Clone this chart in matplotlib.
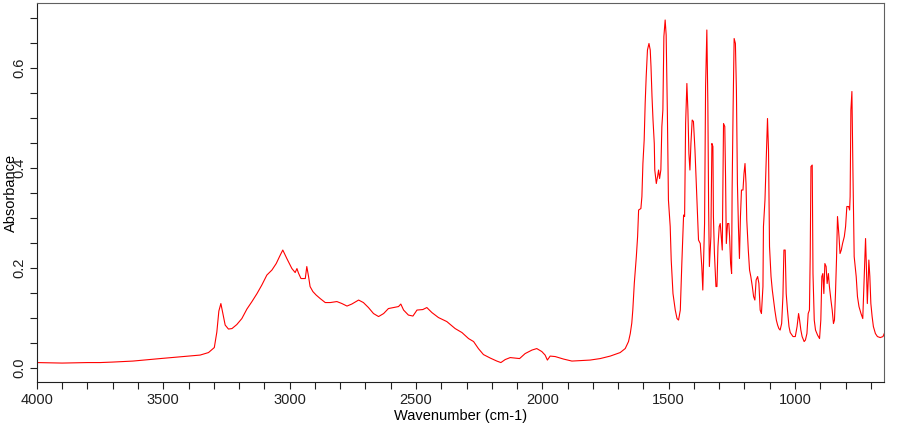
import matplotlib
matplotlib.use("Agg")
import matplotlib.pyplot as plt
from matplotlib.ticker import MultipleLocator

plt.rcParams['font.family'] = ['Liberation Sans', 'DejaVu Sans']

# IR spectrum (wavenumber in cm-1, absorbance)
wavenumber = [
    4000, 3900, 3800, 3750, 3700, 3620, 3512, 3420, 3354, 3321, 3298, 3288, 3280, 3272,
    3264, 3255, 3242, 3228, 3209, 3189, 3169, 3149, 3129, 3110, 3090, 3070, 3053, 3037,
    3027, 3011, 2991, 2978, 2971, 2965, 2955, 2938, 2932, 2925, 2919, 2908, 2895, 2879,
    2859, 2839, 2813, 2793, 2773, 2754, 2727, 2708, 2688, 2668, 2648, 2628, 2609, 2589,
    2569, 2560, 2549, 2530, 2512, 2496, 2473, 2457, 2437, 2411, 2378, 2345, 2318, 2292,
    2272, 2253, 2233, 2206, 2180, 2164, 2147, 2127, 2090, 2068, 2041, 2022, 2002, 1989,
    1980, 1969, 1949, 1916, 1883, 1850, 1811, 1771, 1731, 1692, 1672, 1659, 1652, 1646,
    1642, 1636, 1628, 1623, 1619, 1610, 1606, 1602, 1597, 1593, 1589, 1584, 1578, 1573,
    1570, 1566, 1562, 1557, 1555, 1549, 1544, 1540, 1536, 1531, 1527, 1523, 1519, 1514,
    1510, 1505, 1501, 1494, 1490, 1483, 1474, 1467, 1461, 1454, 1448, 1441, 1437, 1433,
    1428, 1424, 1420, 1416, 1412, 1407, 1402, 1396, 1388, 1382, 1375, 1369, 1365, 1358,
    1354, 1349, 1345, 1342, 1339, 1333, 1329, 1325, 1323, 1319, 1313, 1309, 1305, 1300,
    1296, 1292, 1288, 1283, 1278, 1275, 1272, 1267, 1262, 1259, 1255, 1251, 1249, 1245,
    1241, 1236, 1232, 1228, 1224, 1220, 1216, 1212, 1206, 1202, 1198, 1194, 1191, 1185,
    1180, 1175, 1169, 1164, 1159, 1154, 1148, 1143, 1138, 1133, 1127, 1125, 1119, 1114,
    1109, 1105, 1101, 1095, 1090, 1085, 1080, 1074, 1069, 1064, 1059, 1053, 1048, 1044,
    1039, 1035, 1030, 1024, 1019, 1008, 999, 992, 986, 982, 977, 972, 964, 959,
    953, 948, 943, 940, 937, 932, 929, 924, 919, 911, 903, 898, 894, 890,
    886, 882, 877, 873, 868, 864, 858, 853, 848, 844, 840, 836, 832, 826,
    822, 817, 812, 805, 800, 795, 788, 784, 782, 779, 775, 771, 766, 758,
    753, 747, 739, 732, 726, 721, 718, 714, 710, 708, 704, 700, 695, 690,
    682, 674, 663, 652, 647,
]
absorbance = [
    0.011, 0.010, 0.011, 0.011, 0.012, 0.014, 0.019, 0.023, 0.026, 0.031, 0.041, 0.072, 0.114, 0.129,
    0.109, 0.086, 0.078, 0.079, 0.087, 0.099, 0.118, 0.133, 0.149, 0.166, 0.186, 0.196, 0.209, 0.226,
    0.236, 0.219, 0.199, 0.191, 0.199, 0.190, 0.179, 0.179, 0.203, 0.183, 0.163, 0.153, 0.146, 0.139,
    0.131, 0.131, 0.133, 0.129, 0.124, 0.128, 0.136, 0.131, 0.121, 0.109, 0.103, 0.109, 0.119, 0.121,
    0.123, 0.128, 0.116, 0.106, 0.104, 0.116, 0.117, 0.121, 0.111, 0.101, 0.093, 0.079, 0.071, 0.059,
    0.053, 0.039, 0.027, 0.020, 0.014, 0.011, 0.017, 0.021, 0.019, 0.029, 0.036, 0.039, 0.033, 0.026,
    0.016, 0.024, 0.023, 0.018, 0.014, 0.015, 0.016, 0.019, 0.024, 0.031, 0.039, 0.053, 0.069, 0.090,
    0.116, 0.170, 0.223, 0.263, 0.316, 0.319, 0.343, 0.409, 0.456, 0.530, 0.583, 0.636, 0.649, 0.636,
    0.603, 0.543, 0.496, 0.449, 0.396, 0.369, 0.383, 0.396, 0.379, 0.396, 0.483, 0.516, 0.663, 0.696,
    0.666, 0.503, 0.336, 0.283, 0.216, 0.149, 0.116, 0.099, 0.096, 0.116, 0.209, 0.306, 0.303, 0.489,
    0.569, 0.516, 0.429, 0.396, 0.449, 0.496, 0.493, 0.436, 0.336, 0.256, 0.249, 0.203, 0.156, 0.289,
    0.563, 0.676, 0.529, 0.323, 0.203, 0.263, 0.449, 0.443, 0.303, 0.229, 0.163, 0.163, 0.243, 0.283,
    0.289, 0.263, 0.236, 0.489, 0.483, 0.383, 0.249, 0.289, 0.289, 0.263, 0.209, 0.189, 0.356, 0.523,
    0.659, 0.649, 0.556, 0.369, 0.283, 0.219, 0.303, 0.356, 0.356, 0.389, 0.409, 0.369, 0.296, 0.236,
    0.196, 0.183, 0.163, 0.143, 0.136, 0.176, 0.183, 0.169, 0.116, 0.109, 0.163, 0.283, 0.336, 0.416,
    0.499, 0.436, 0.243, 0.183, 0.156, 0.136, 0.116, 0.096, 0.086, 0.079, 0.076, 0.089, 0.143, 0.236,
    0.236, 0.149, 0.116, 0.083, 0.071, 0.063, 0.063, 0.083, 0.109, 0.096, 0.076, 0.063, 0.053, 0.056,
    0.069, 0.109, 0.116, 0.223, 0.403, 0.406, 0.189, 0.096, 0.076, 0.066, 0.059, 0.096, 0.183, 0.189,
    0.149, 0.209, 0.203, 0.169, 0.189, 0.163, 0.136, 0.116, 0.089, 0.096, 0.149, 0.216, 0.303, 0.263,
    0.229, 0.236, 0.249, 0.263, 0.283, 0.323, 0.323, 0.316, 0.343, 0.516, 0.553, 0.396, 0.223, 0.183,
    0.143, 0.123, 0.109, 0.099, 0.183, 0.259, 0.209, 0.129, 0.183, 0.216, 0.183, 0.129, 0.103, 0.083,
    0.069, 0.063, 0.061, 0.063, 0.069,
]

fig = plt.figure(figsize=(9, 4.25), dpi=100)
ax = fig.add_axes([0.041, 0.101, 0.9415, 0.892])

ax.plot(wavenumber, absorbance, color='#ff0000', linewidth=0.8)

ax.set_xlim(4000, 647)
ax.set_ylim(-0.028, 0.73)

ax.xaxis.set_major_locator(MultipleLocator(500))
ax.xaxis.set_minor_locator(MultipleLocator(100))
ax.yaxis.set_major_locator(MultipleLocator(0.2))
ax.yaxis.set_minor_locator(MultipleLocator(0.05))
ax.yaxis.set_major_formatter(lambda v, p: f"{v:.1f}")

ax.tick_params(which='both', direction='out', length=5, width=0.8, color='#202020')
ax.tick_params(axis='x', labelsize=10.5, pad=3, labelcolor='#202020')
ax.tick_params(axis='y', labelsize=10.5, pad=2.5, labelcolor='#202020', labelrotation=90)
for lab in ax.get_yticklabels():
    lab.set_verticalalignment('center')

for side in ['left', 'bottom']:
    ax.spines[side].set_color('#202020')
for side in ['top', 'right']:
    ax.spines[side].set_color('#606060')

ax.set_xlabel('Wavenumber (cm-1)', fontsize=10.5, labelpad=1)
ax.set_ylabel('Absorbance', fontsize=10.5)
ax.yaxis.set_label_coords(-0.022, 0.5)

fig.savefig('out.png', dpi=100)
